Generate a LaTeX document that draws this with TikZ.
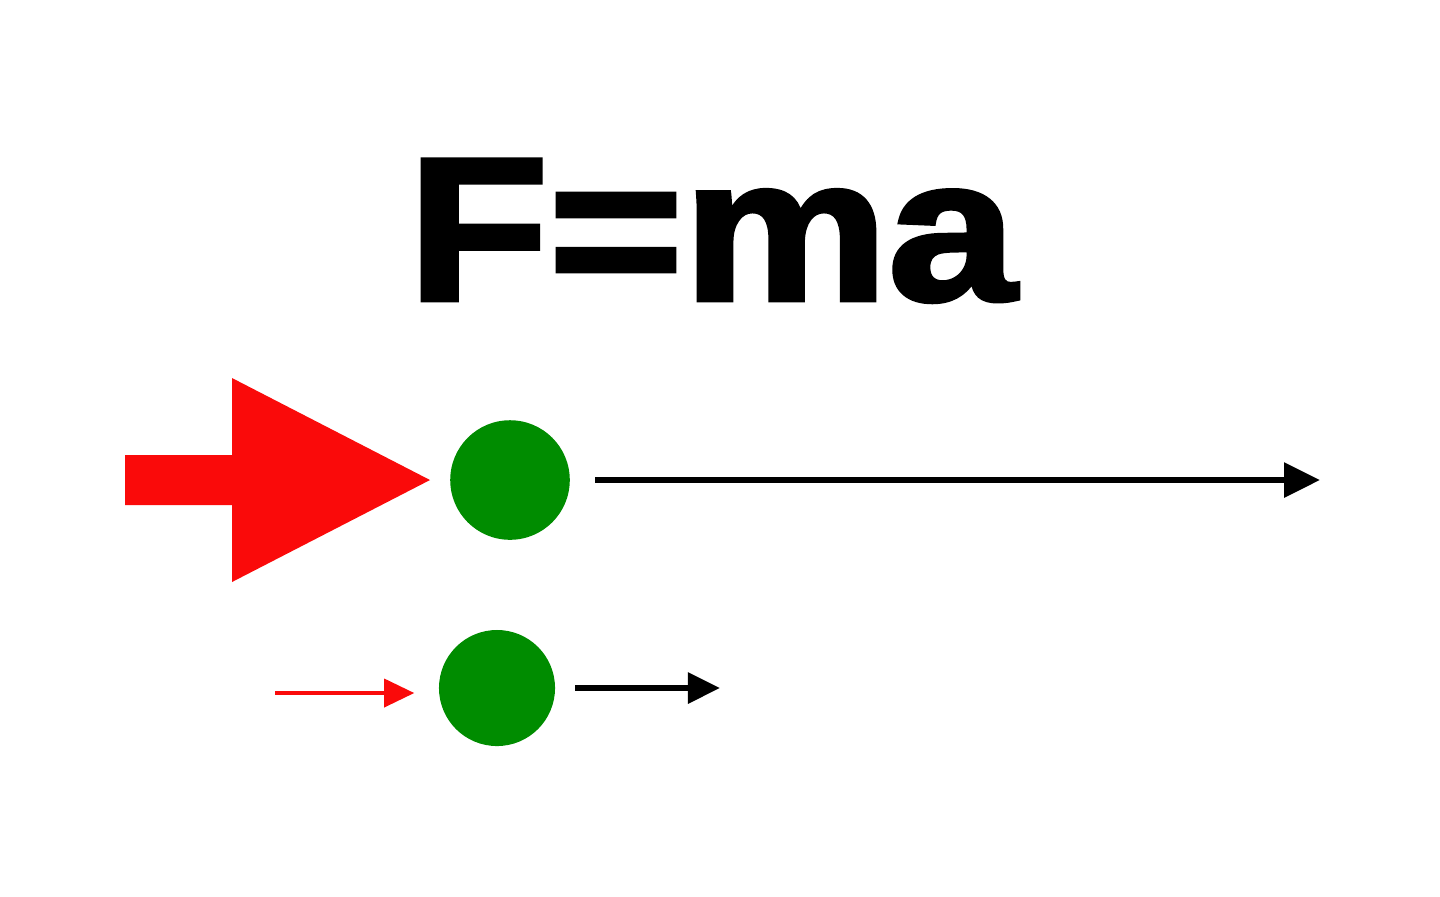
\documentclass[tikz,border=0pt]{standalone}
\usepackage{fontspec}
\setmainfont{Liberation Sans}
\newfontfamily\heavyfont[FakeBold=2.2]{Liberation Sans Bold}
\usetikzlibrary{arrows.meta}
\definecolor{fgreen}{RGB}{0,140,0}
\definecolor{fred}{RGB}{250,10,10}
\begin{document}
\begin{tikzpicture}[x=0.01cm,y=-0.01cm,
  ball/.style={circle,fill=fgreen,draw=none,minimum size=#1,inner sep=0pt},
  motion/.style={line width=1.7pt,draw=black},
]
\useasboundingbox (0,0) rectangle (1440,896);
\fill[white] (0,0) rectangle (1440,896);
\node[anchor=base,inner sep=0pt,font=\heavyfont,xscale=1.13] (title) at (712,300)
  {\fontsize{58}{58}\selectfont F=ma};
% big force
\node[ball=3.4pt*10] (b1) at (510,480) {};
\fill[fred] (125,455) -- (232,455) -- (232,378) -- (430,480) -- (232,582) -- (232,505) -- (125,505) -- cycle;
\coordinate (e1) at (1320,480);
\draw[motion,-{Triangle[length=0.36cm,width=0.34cm]}] (595,480) -- (e1);
% small force
\node[ball=3.3pt*10] (b2) at (497,688) {};
\coordinate (r2) at (275,693);
\draw[fred,line width=1pt,shorten >=0.24cm,-{Triangle[length=0.3cm,width=0.28cm]}] (r2) -- (r2 -| b2.west);
\coordinate (e2) at (720,688);
\draw[motion,-{Triangle[length=0.32cm,width=0.3cm]}] (575,688) -- (e2);
\end{tikzpicture}
\end{document}
